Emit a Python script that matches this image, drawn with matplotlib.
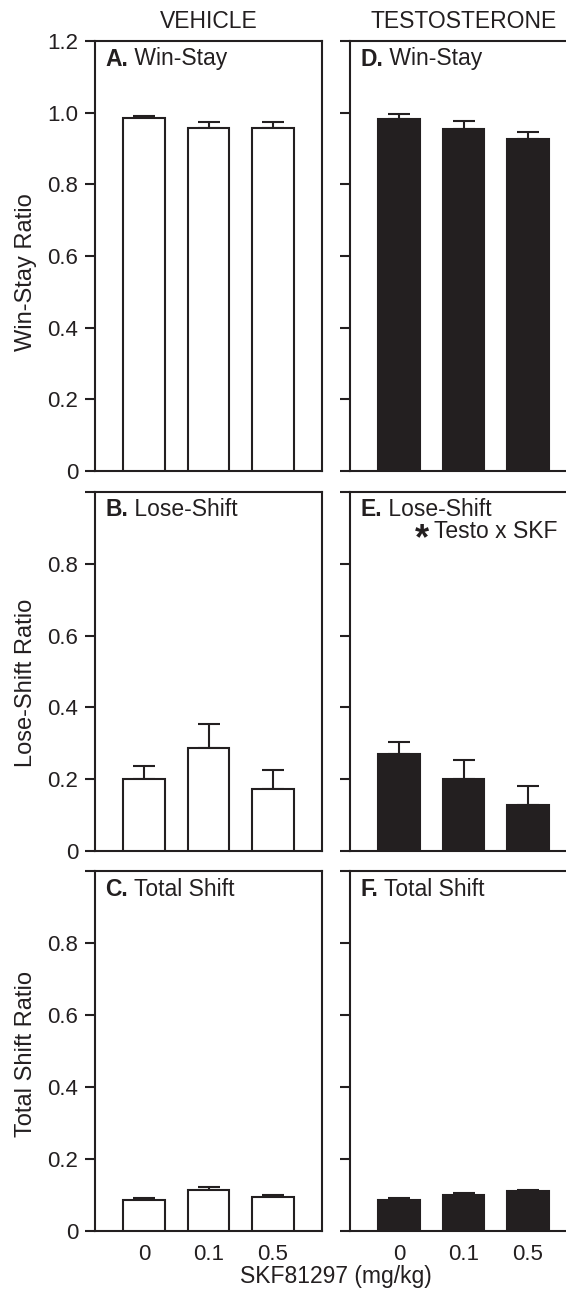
import matplotlib
matplotlib.use("Agg")
import matplotlib.pyplot as plt
import numpy as np

plt.rcParams['font.family'] = ['Liberation Sans', 'DejaVu Sans']

# ---------------- data ----------------
doses = ['0', '0.1', '0.5']
groups = ['VEHICLE', 'TESTOSTERONE']

veh_winstay = [0.985, 0.956, 0.956]
veh_winstay_err = [0.006, 0.017, 0.017]
tes_winstay = [0.983, 0.955, 0.927]
tes_winstay_err = [0.012, 0.023, 0.018]

veh_loseshift = [0.200, 0.288, 0.173]
veh_loseshift_err = [0.037, 0.065, 0.054]
tes_loseshift = [0.271, 0.200, 0.128]
tes_loseshift_err = [0.032, 0.053, 0.054]

veh_totalshift = [0.086, 0.115, 0.094]
veh_totalshift_err = [0.005, 0.007, 0.006]
tes_totalshift = [0.086, 0.101, 0.110]
tes_totalshift_err = [0.005, 0.004, 0.004]

row_titles = ['Win-Stay', 'Lose-Shift', 'Total Shift']
row_ylabels = ['Win-Stay Ratio', 'Lose-Shift Ratio', 'Total Shift Ratio']
panel_letters = [['A.', 'D.'], ['B.', 'E.'], ['C.', 'F.']]
xlabel = 'SKF81297 (mg/kg)'
stat_note = 'Testo x SKF'

data = [
    [(veh_winstay, veh_winstay_err), (tes_winstay, tes_winstay_err)],
    [(veh_loseshift, veh_loseshift_err), (tes_loseshift, tes_loseshift_err)],
    [(veh_totalshift, veh_totalshift_err), (tes_totalshift, tes_totalshift_err)],
]

# ---------------- layout ----------------
W, H = 566, 1290
ink = '#231f20'
fig = plt.figure(figsize=(W / 100, H / 100), dpi=100)


def fx(px):
    return px / W


def fy(py):
    return 1 - py / H


rows = [(41, 471, 1.2), (492, 851, 1.0), (871, 1231, 1.0)]
cols = [(95, 322), (350, 577)]
label_x = [105, 360]

x = np.arange(len(doses))
lw = 1.5
fs_tick = 16
fs_lab = 16.5

for r, (top, bot, ymax) in enumerate(rows):
    for c, (left, right) in enumerate(cols):
        ax = fig.add_axes([fx(left), fy(bot), (right - left) / W, (bot - top) / H])
        vals, err = data[r][c]
        face = 'white' if c == 0 else ink
        ax.bar(x, vals, width=0.65, color=face, edgecolor=ink, linewidth=lw, zorder=3)
        ax.errorbar(x, vals, yerr=[np.zeros(len(vals)), err], fmt='none', ecolor=ink,
                    elinewidth=lw, capsize=8, capthick=lw, zorder=2)
        ax.set_xlim(-0.76, 2.76)
        ax.set_ylim(0, ymax)
        if ymax > 1.1:
            ticks = [0, 0.2, 0.4, 0.6, 0.8, 1.0, 1.2]
            labels = ['0', '0.2', '0.4', '0.6', '0.8', '1.0', '1.2']
        else:
            ticks = [0, 0.2, 0.4, 0.6, 0.8, 1.0]
            labels = ['0', '0.2', '0.4', '0.6', '0.8', '']
        ax.set_yticks(ticks)
        ax.set_yticklabels(labels if c == 0 else [''] * len(ticks))
        ax.tick_params(axis='y', direction='out', length=7.2, width=lw, color=ink,
                       labelsize=fs_tick, labelcolor=ink, pad=5)
        if r == 2:
            ax.set_xticks(x)
            ax.set_xticklabels(doses)
            ax.tick_params(axis='x', length=0, labelsize=fs_tick, labelcolor=ink, pad=9)
        else:
            ax.set_xticks([])
        for s in ax.spines.values():
            s.set_linewidth(lw)
            s.set_color(ink)

        # panel label: bold letter + regular title
        base_y = top + 24.5
        t = fig.text(fx(label_x[c]), fy(base_y), panel_letters[r][c], fontsize=fs_lab,
                     fontweight='bold', color=ink, va='baseline', ha='left')
        ax.annotate(' ' + row_titles[r], xy=(1, 0), xycoords=t, va='bottom', ha='left',
                    fontsize=fs_lab, color=ink, annotation_clip=False)

        if r == 0:
            fig.text(fx((left + right) / 2), fy(28.5), groups[c], fontsize=fs_lab,
                     color=ink, ha='center', va='baseline')

        if r == 1 and c == 1:
            fig.text(fx(558), fy(538), stat_note, fontsize=fs_lab, color=ink,
                     ha='right', va='baseline')
            fig.text(fx(429), fy(549), '*', fontsize=26, fontweight='bold', color=ink,
                     ha='right', va='baseline')

# y labels
for ylab, yc in zip(row_ylabels, [272, 682.5, 1054]):
    fig.text(fx(26), fy(yc), ylab, rotation=90, fontsize=17, color=ink,
             ha='center', va='center')

# x label
fig.text(fx(336), fy(1283), xlabel, fontsize=fs_lab, color=ink, ha='center', va='baseline')

fig.savefig('out.png', dpi=100)
